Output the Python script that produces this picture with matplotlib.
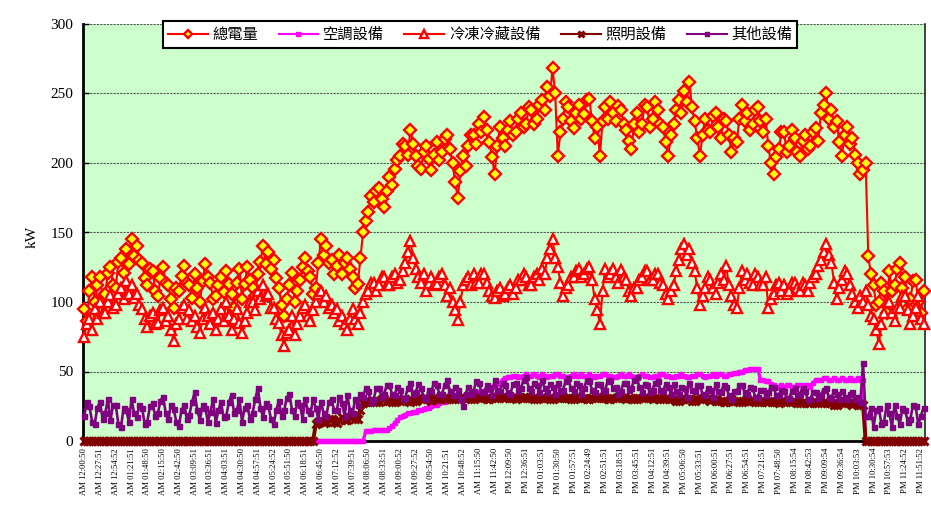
import matplotlib
matplotlib.use("Agg")
import matplotlib.pyplot as plt
import numpy as np

# ---- data (4.5-minute samples, kW) ----
total = [
    95, 86, 108, 118, 100, 112, 118, 104, 106, 121, 125, 112, 110, 129, 132, 121, 138, 127, 145, 133,
    140, 130, 128, 117, 112, 124, 122, 108, 104, 117, 125, 114, 112, 102, 96, 110, 108, 119, 126, 114,
    112, 103, 120, 110, 100, 115, 127, 118, 114, 102, 104, 112, 118, 107, 122, 113, 106, 96, 114, 124,
    102, 113, 125, 116, 110, 104, 120, 129, 140, 127, 136, 124, 130, 117, 110, 98, 90, 102, 112, 121,
    100, 108, 116, 125, 132, 122, 118, 106, 110, 128, 145, 134, 140, 128, 130, 120, 126, 134, 120, 128,
    132, 124, 118, 110, 113, 132, 150, 158, 165, 176, 172, 180, 182, 174, 168, 180, 190, 184, 196, 202,
    205, 214, 212, 206, 224, 214, 205, 198, 196, 208, 212, 203, 195, 206, 215, 202, 208, 217, 220, 210,
    200, 186, 175, 194, 205, 198, 212, 220, 220, 214, 228, 222, 233, 224, 215, 204, 192, 212, 226, 218,
    212, 224, 230, 220, 222, 232, 236, 226, 228, 240, 238, 228, 232, 242, 245, 238, 255, 248, 268, 250,
    205, 222, 232, 244, 240, 230, 225, 236, 242, 232, 235, 245, 246, 230, 218, 226, 205, 230, 240, 232,
    244, 236, 230, 241, 238, 228, 224, 216, 210, 228, 236, 222, 228, 242, 240, 226, 232, 244, 238, 228,
    226, 215, 205, 220, 228, 238, 245, 236, 252, 244, 258, 240, 230, 218, 205, 220, 232, 224, 222, 234,
    236, 226, 218, 232, 230, 220, 208, 218, 215, 232, 242, 230, 236, 224, 228, 238, 240, 230, 222, 232,
    212, 200, 192, 204, 210, 222, 222, 208, 212, 224, 218, 208, 205, 216, 220, 210, 212, 222, 225, 216,
    236, 242, 250, 232, 238, 226, 230, 215, 205, 220, 226, 214, 218, 206, 200, 192, 195, 200, 133, 120,
    112, 98, 100, 114, 108, 92, 122, 108, 112, 124, 128, 110, 118, 96, 102, 115, 116, 100, 92, 108,
]
aircon = [
    0, 0, 0, 0, 0, 0, 0, 0, 0, 0, 0, 0, 0, 0, 0, 0, 0, 0, 0, 0,
    0, 0, 0, 0, 0, 0, 0, 0, 0, 0, 0, 0, 0, 0, 0, 0, 0, 0, 0, 0,
    0, 0, 0, 0, 0, 0, 0, 0, 0, 0, 0, 0, 0, 0, 0, 0, 0, 0, 0, 0,
    0, 0, 0, 0, 0, 0, 0, 0, 0, 0, 0, 0, 0, 0, 0, 0, 0, 0, 0, 0,
    0, 0, 0, 0, 0, 0, 0, 0, 0, 0, 0, 0, 0, 0, 0, 0, 0, 0, 0, 0,
    0, 0, 0, 0, 0, 0, 0, 7, 7, 7, 8, 8, 8, 8, 8, 8, 9, 11, 13, 15,
    17, 18, 19, 20, 20, 21, 21, 22, 22, 23, 24, 24, 25, 26, 26, 27, 28, 28, 29, 30,
    30, 31, 31, 32, 32, 33, 33, 34, 34, 35, 35, 36, 36, 37, 38, 39, 40, 41, 42, 44,
    45, 46, 46, 47, 47, 46, 46, 47, 48, 47, 47, 48, 47, 46, 48, 47, 46, 47, 47, 48,
    48, 47, 47, 46, 46, 47, 48, 47, 47, 48, 47, 46, 48, 47, 46, 47, 47, 48, 48, 47,
    47, 46, 46, 47, 48, 47, 47, 48, 47, 46, 46, 47, 48, 47, 47, 46, 46, 47, 47, 48,
    48, 47, 47, 46, 46, 47, 47, 48, 47, 46, 46, 47, 47, 48, 48, 47, 46, 47, 47, 48,
    47, 48, 48, 47, 47, 48, 48, 49, 49, 50, 50, 51, 51, 52, 52, 52, 52, 44, 44, 43,
    43, 41, 40, 39, 39, 40, 39, 40, 40, 39, 39, 40, 40, 39, 40, 40, 39, 42, 44, 44,
    44, 45, 45, 44, 44, 45, 44, 44, 45, 44, 44, 45, 44, 44, 45, 44, 44, 0, 0, 0,
    0, 0, 0, 0, 0, 0, 0, 0, 0, 0, 0, 0, 0, 0, 0, 0, 0, 0, 0, 0,
]
fridge = [
    75, 84, 88, 80, 95, 88, 100, 92, 92, 100, 105, 96, 98, 106, 110, 102, 115, 106, 112, 103,
    106, 98, 95, 88, 82, 90, 92, 84, 85, 94, 96, 86, 90, 80, 72, 84, 88, 96, 98, 88,
    94, 86, 90, 82, 78, 88, 96, 90, 84, 92, 80, 88, 95, 86, 100, 90, 80, 88, 95, 85,
    78, 86, 92, 100, 100, 94, 108, 102, 112, 104, 106, 96, 96, 88, 85, 76, 68, 78, 80, 90,
    76, 84, 90, 96, 98, 90, 86, 94, 100, 106, 108, 100, 104, 96, 98, 92, 95, 86, 90, 84,
    80, 88, 95, 88, 84, 92, 100, 106, 108, 114, 114, 108, 112, 118, 118, 112, 112, 118, 120, 114,
    116, 122, 128, 136, 144, 132, 124, 118, 114, 120, 108, 114, 118, 112, 113, 118, 120, 112, 104, 110,
    100, 94, 87, 100, 112, 116, 118, 112, 120, 114, 114, 120, 120, 114, 108, 104, 103, 108, 110, 104,
    106, 110, 112, 106, 110, 116, 116, 120, 118, 112, 112, 118, 120, 116, 124, 120, 132, 138, 145, 132,
    125, 114, 104, 110, 112, 118, 118, 122, 124, 118, 120, 124, 125, 116, 102, 94, 84, 108, 124, 118,
    120, 124, 118, 114, 123, 118, 116, 108, 104, 110, 110, 116, 118, 122, 122, 116, 116, 120, 120, 114,
    112, 106, 102, 108, 112, 122, 130, 138, 142, 134, 138, 128, 122, 110, 98, 104, 110, 118, 116, 110,
    106, 114, 120, 116, 126, 112, 104, 98, 96, 110, 122, 116, 120, 114, 112, 120, 118, 112, 112, 118,
    96, 102, 106, 112, 114, 108, 112, 106, 108, 114, 114, 110, 108, 114, 112, 108, 114, 118, 120, 126,
    130, 136, 142, 134, 128, 114, 102, 110, 116, 122, 120, 112, 106, 100, 96, 104, 100, 108, 98, 90,
    88, 80, 70, 84, 92, 100, 100, 92, 86, 96, 96, 104, 104, 94, 84, 90, 96, 104, 88, 84,
]
lighting = [
    0, 0, 0, 0, 0, 0, 0, 0, 0, 0, 0, 0, 0, 0, 0, 0, 0, 0, 0, 0,
    0, 0, 0, 0, 0, 0, 0, 0, 0, 0, 0, 0, 0, 0, 0, 0, 0, 0, 0, 0,
    0, 0, 0, 0, 0, 0, 0, 0, 0, 0, 0, 0, 0, 0, 0, 0, 0, 0, 0, 0,
    0, 0, 0, 0, 0, 0, 0, 0, 0, 0, 0, 0, 0, 0, 0, 0, 0, 0, 0, 0,
    0, 0, 0, 0, 0, 0, 0, 0, 12, 14, 15, 13, 14, 16, 16, 14, 13, 15, 17, 15,
    15, 17, 18, 16, 16, 22, 27, 28, 28, 29, 29, 28, 28, 30, 30, 29, 29, 28, 28, 29,
    29, 30, 30, 29, 28, 29, 29, 30, 30, 31, 31, 30, 29, 30, 30, 31, 31, 30, 30, 31,
    31, 30, 30, 31, 32, 31, 31, 30, 30, 32, 32, 31, 31, 30, 30, 31, 31, 32, 32, 31,
    31, 32, 32, 31, 30, 31, 31, 32, 32, 31, 31, 30, 30, 31, 32, 31, 31, 30, 30, 31,
    31, 32, 32, 31, 31, 30, 30, 31, 32, 31, 31, 30, 30, 31, 31, 32, 32, 31, 31, 30,
    30, 31, 31, 32, 32, 31, 30, 31, 31, 30, 30, 31, 31, 32, 32, 31, 30, 31, 31, 30,
    30, 31, 31, 30, 30, 29, 29, 30, 31, 30, 30, 29, 29, 30, 30, 31, 31, 30, 29, 30,
    30, 29, 29, 28, 28, 29, 30, 29, 29, 28, 28, 29, 30, 29, 29, 28, 28, 29, 29, 28,
    28, 29, 29, 28, 27, 28, 28, 29, 29, 28, 28, 27, 27, 28, 28, 27, 27, 28, 28, 27,
    27, 28, 28, 27, 27, 26, 26, 27, 27, 28, 28, 27, 26, 27, 27, 26, 26, 0, 0, 0,
    0, 0, 0, 0, 0, 0, 0, 0, 0, 0, 0, 0, 0, 0, 0, 0, 0, 0, 0, 0,
]
others = [
    18, 28, 25, 14, 12, 24, 28, 16, 20, 30, 15, 26, 26, 12, 10, 24, 22, 14, 30, 20,
    17, 26, 24, 12, 14, 25, 27, 18, 20, 29, 32, 20, 16, 26, 23, 14, 11, 22, 26, 16,
    19, 28, 35, 22, 15, 26, 24, 14, 21, 30, 13, 22, 28, 17, 18, 28, 33, 20, 22, 30,
    14, 24, 26, 16, 20, 30, 38, 24, 17, 27, 25, 16, 12, 22, 29, 18, 22, 31, 34, 22,
    18, 28, 26, 16, 30, 22, 20, 30, 24, 16, 28, 20, 18, 28, 30, 22, 22, 32, 27, 18,
    33, 22, 20, 30, 26, 34, 32, 38, 36, 28, 30, 38, 38, 32, 34, 40, 40, 34, 33, 39,
    37, 30, 31, 38, 42, 34, 35, 41, 38, 32, 30, 37, 36, 42, 40, 34, 34, 40, 44, 36,
    33, 39, 37, 30, 25, 34, 39, 34, 36, 43, 42, 35, 35, 40, 38, 33, 44, 37, 36, 42,
    40, 35, 34, 41, 42, 36, 38, 44, 46, 38, 36, 42, 40, 35, 44, 38, 35, 41, 39, 34,
    42, 36, 37, 43, 45, 38, 36, 42, 40, 34, 38, 44, 43, 37, 35, 41, 41, 36, 37, 43,
    44, 38, 39, 34, 36, 42, 42, 37, 38, 44, 46, 39, 35, 41, 40, 35, 37, 42, 43, 37,
    36, 41, 39, 34, 41, 36, 34, 39, 38, 32, 42, 37, 36, 40, 40, 34, 33, 38, 37, 32,
    41, 36, 35, 40, 39, 33, 30, 36, 36, 40, 40, 35, 34, 39, 38, 32, 32, 37, 37, 33,
    35, 39, 39, 33, 33, 37, 36, 31, 31, 36, 38, 33, 34, 38, 36, 30, 30, 35, 35, 31,
    33, 37, 38, 32, 31, 36, 34, 30, 36, 32, 30, 34, 35, 30, 32, 28, 56, 18, 18, 24,
    10, 22, 24, 12, 14, 26, 20, 10, 26, 18, 12, 24, 22, 14, 16, 26, 25, 12, 18, 24,
]
series_names = ["總電量", "空調設備", "冷凍冷藏設備", "照明設備", "其他設備"]
tick_labels = [
    "AM 12:00:50", "AM 12:27:51", "AM 12:54:52", "AM 01:21:51", "AM 01:48:50",
    "AM 02:15:50", "AM 02:42:50", "AM 03:09:51", "AM 03:36:51", "AM 04:03:51",
    "AM 04:30:50", "AM 04:57:51", "AM 05:24:52", "AM 05:51:50", "AM 06:18:51",
    "AM 06:45:50", "AM 07:12:52", "AM 07:39:51", "AM 08:06:50", "AM 08:33:51",
    "AM 09:00:52", "AM 09:27:52", "AM 09:54:50", "AM 10:21:51", "AM 10:48:52",
    "AM 11:15:50", "AM 11:42:50", "PM 12:09:50", "PM 12:36:51", "PM 01:03:51",
    "PM 01:30:50", "PM 01:57:51", "PM 02:24:49", "PM 02:51:51", "PM 03:18:51",
    "PM 03:45:51", "PM 04:12:51", "PM 04:39:51", "PM 05:06:50", "PM 05:33:51",
    "PM 06:00:51", "PM 06:27:51", "PM 06:54:51", "PM 07:21:51", "PM 07:48:50",
    "PM 08:15:54", "PM 08:42:53", "PM 09:09:54", "PM 09:36:54", "PM 10:03:53",
    "PM 10:30:54", "PM 10:57:53", "PM 11:24:52", "PM 11:51:52",
]
SAMPLE_MIN = 4.5
TICK_MIN = 27

plt.rcParams['font.family'] = ['Noto Sans CJK TC', 'DejaVu Sans']

fig = plt.figure(figsize=(9.31, 5.13), dpi=100)
ax = fig.add_axes([83/931, 1-441/513, (925-83)/931, (441-24)/513])
ax.set_facecolor('#CCFFCC')


def xs(s):
    return np.arange(len(s)) * SAMPLE_MIN


l1, = ax.plot(xs(total), total, color='#FF0000', lw=1.5, marker='D', ms=5.8,
              mfc='#FFFF00', mec='#FF0000', mew=1.7, zorder=3, clip_on=False)
l2, = ax.plot(xs(aircon), aircon, color='#FF00FF', lw=2.4, marker='s', ms=3.2,
              mfc='#FF00FF', mec='#FF00FF', zorder=3.1, clip_on=False)
l3, = ax.plot(xs(fridge), fridge, color='#FF0000', lw=1.5, marker='^', ms=6.8,
              mfc='white', mec='#FF0000', mew=1.7, zorder=3.2, clip_on=False)
l4, = ax.plot(xs(lighting), lighting, color='#800000', lw=2.8, marker='x', ms=6,
              mec='#800000', mew=2.2, zorder=3.3, clip_on=False)
l5, = ax.plot(xs(others), others, color='#800080', lw=1.9, marker='s', ms=3.6,
              mfc='#800080', mec='#800080', zorder=3.4, clip_on=False)

ax.set_ylim(0, 300)
ax.set_xlim(-2, 1438)
ax.set_yticks(range(0, 301, 50))
ax.set_yticklabels([str(v) for v in range(0, 301, 50)],
                   fontfamily='Liberation Serif', fontsize=11)
ax.tick_params(axis='y', direction='in', length=4, pad=7, width=1)
ax.set_xticks(np.arange(len(tick_labels)) * TICK_MIN)
ax.set_xticklabels(tick_labels, rotation=90, fontfamily='Liberation Serif',
                   fontsize=6.2)
ax.tick_params(axis='x', length=0, pad=5)
ax.grid(axis='y', color='#555555', linestyle=(0, (2, 1)), lw=0.8)
ax.set_axisbelow(True)
for s in ['left', 'bottom']:
    ax.spines[s].set_linewidth(2)
    ax.spines[s].set_color('black')
ax.spines['top'].set_visible(False)
ax.spines['right'].set_linewidth(1.2)
ax.spines['right'].set_color('#222222')

fig.text(32/931, 1-237/513, 'kW', rotation=90, ha='center', va='center',
         fontfamily='Liberation Serif', fontsize=11)

leg = fig.legend([l1, l2, l3, l4, l5], series_names, loc='center',
                 bbox_to_anchor=(480/931, 1-34.5/513), ncol=5, fontsize=11,
                 handlelength=2.6, handletextpad=0.3, columnspacing=1.35,
                 borderpad=0.3, fancybox=False, framealpha=1,
                 edgecolor='black', markerscale=0.75)
leg.get_frame().set_linewidth(1.5)
for h in leg.get_lines():
    h.set_linewidth(1.5)

fig.savefig('out.png', dpi=100, facecolor='white')
